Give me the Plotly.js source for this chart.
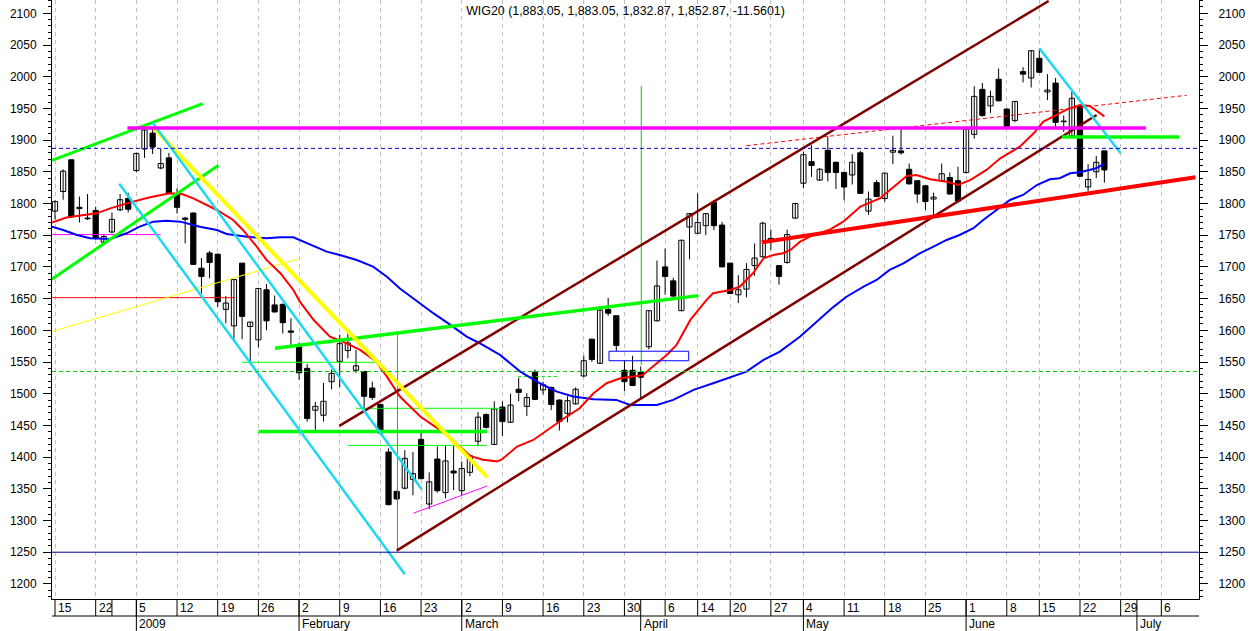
<!DOCTYPE html>
<html><head><meta charset="utf-8">
<script src="https://cdn.plot.ly/plotly-3.0.1.min.js"></script>
<style>html,body{margin:0;padding:0;background:#fff;} #chart{width:1250px;height:631px;}</style>
</head><body><div id="chart"></div>
<script>
const FONT = 'Liberation Sans, Arial, Helvetica, sans-serif';

// ---- trading calendar (WSE sessions) ----
const holidays = ['2008-12-24','2008-12-25','2008-12-26','2009-01-01','2009-01-02','2009-04-10','2009-04-13','2009-05-01','2009-06-11'];
const calendarStart = '2008-12-15';
const calendarEnd = '2009-07-10';

// ---- daily OHLC, from 2008-12-15 ----
const open  = [1788,1819,1869,1794,1777,1789,1739,1755,1790,1808, 1852,1886,1911,1856,1872,1815,1777,1785,1698,1722,
               1720,1633,1607,1706,1606,1585,1664,1640,1641,1599, 1574,1540,1474,1466,1519,1551,1568,1537,1535,1509,
               1483,1408,1346,1351,1365,1428,1326,1397,1344,1378, 1347,1376,1425,1467,1420,1479,1455,1507,1480,1534,
               1506,1510,1490,1469,1484,1528,1586,1548,1633,1623, 1537,1537,1534,1574,1615,1700,1678,1631,1763,1753,
               1765,1802,1766,1706,1656,1665,1702,1716,1745,1702, 1707,1777,1832,1866,1837,1884,1865,1849,1845,1880,
               1788,1833,1808,1881,1883,1854,1836,1828,1807,1836, 1841,1836,1849,1909,1980,1954,1996,1949,1931,2008,
               1998,2029,1976,1990,1929,1907,1954,1826,1850,1883.05];
const high  = [1805,1854,1869,1811,1815,1795,1752,1786,1815,1817, 1880,1918,1917,1886,1880,1824,1779,1786,1714,1725,
               1721,1654,1681,1706,1613,1667,1673,1655,1642,1619, 1581,1547,1487,1517,1538,1593,1595,1569,1536,1519,
               1484,1414,1347,1411,1408,1438,1376,1417,1418,1418, 1393,1405,1471,1469,1488,1488,1500,1525,1501,1538,
               1519,1511,1491,1496,1510,1560,1587,1638,1651,1623, 1552,1560,1543,1631,1710,1729,1683,1743,1785,1816,
               1785,1805,1771,1706,1687,1706,1737,1771,1759,1703, 1759,1801,1882,1892,1856,1906,1866,1850,1878,1883,
               1819,1837,1848,1907,1917,1863,1836,1828,1817,1863, 1849,1858,1918,1985,1990,1978,2013,1950,1961,2015,
               2042,2043,2004,1998,1939,1976,1955,1862,1875,1883.05];
const low   = [1775,1806,1777,1770,1774,1743,1737,1753,1788,1786, 1849,1872,1878,1854,1815,1784,1737,1703,1658,1682,
               1637,1611,1586,1586,1550,1573,1600,1628,1595,1577, 1522,1456,1443,1456,1507,1510,1556,1533,1477,1490,
               1436,1324,1333,1349,1340,1365,1318,1344,1335,1348, 1340,1370,1417,1445,1419,1433,1454,1488,1465,1490,
               1499,1474,1442,1455,1483,1526,1550,1547,1623,1567, 1504,1512,1493,1570,1614,1656,1653,1630,1712,1752,
               1750,1758,1700,1657,1643,1652,1686,1715,1727,1672, 1705,1776,1824,1842,1836,1835,1823,1805,1830,1815,
               1782,1810,1803,1862,1877,1830,1801,1790,1780,1835, 1814,1802,1847,1902,1937,1943,1961,1920,1928,1991,
               1983,2006,1963,1921,1913,1905,1842,1819,1840,1832.87];
const close = [1803,1851,1779,1792,1776,1745,1748,1775,1806,1791, 1879,1916,1889,1863,1816,1794,1775,1704,1685,1707,
               1645,1643,1680,1622,1613,1666,1615,1629,1612,1597, 1533,1461,1480,1488,1532,1579,1580,1544,1496,1494,
               1438,1325,1334,1398,1374,1366,1361,1347,1394,1375, 1382,1402,1463,1447,1476,1456,1482,1502,1494,1491,
               1514,1483,1456,1489,1507,1552,1554,1632,1627,1576, 1519,1513,1526,1631,1670,1685,1654,1742,1784,1770,
               1784,1765,1700,1658,1664,1696,1714,1769,1740,1685, 1751,1800,1877,1860,1854,1849,1849,1826,1865,1816,
               1807,1811,1848,1884,1880,1831,1815,1803,1810,1847, 1815,1804,1917,1969,1939,1969,1962,1921,1961,2004,
               2041,2007,1979,1928,1930,1966,1843,1838,1865,1852.87];
const lastChange = -11.5601;

// ---- moving averages (session index, value) ----
const redMaIdx = [-0.4,1.4,5.1,6.8,9.6,11.7,14.1,15.6,17,19.9,21.9,23.1,24.8,26,27.7,29.3,30.1,31.8,33.8,35.4,37.5,39.5,40.8,42.4,44.9,
  47.3,48.9,51,52.6,54.3,54.9,56.8,58.8,60.8,62.9,64.5,66.2,67.8,69.5,71.1,72.3,73.5,75.2,76.4,78.1,80.1,80.9,83,84.2,85.8,87.1,88.3,89.5,90.4,91.6,92.8,94,
  95.3,96.9,99,101.4,102.6,104.7,105.9,107.6,109.6,111,112.5,114.5,116.2,117.5,118.6,120.3,121.5,122.7,124.4,126,127.2,129];
const redMaVal = [1769.8,1778,1784.5,1792.4,1803,1809.8,1816,1815,1808.2,1789.8,1774,1758.3,1732,1711,1690,1663.6,1645.2,1616.3,1590,1582,1569,1550.7,1527,1495.5,1464,
  1443,1427,1402,1396,1393.3,1396,1416.6,1427,1445.6,1464,1477,1500.7,1516.5,1524.4,1527,1529.7,1542.8,1561.2,1577,1616.4,1648,1658.4,1663.6,1669,1690,1713.6,1718.8,1721.5,1726.7,1739.9,1747.7,1753,
  1759.3,1771.4,1795,1808,1821.3,1843.4,1845,1838.2,1834.5,1829.2,1837,1853,1871.3,1882,1889.7,1910.7,1929.1,1937,1948.6,1955.4,1953.8,1937.5];
const blueMaIdx = [-0.4,1,2.7,4.3,6.8,8.8,10.4,12.1,13.7,15.4,17.8,19.9,21.1,23.6,26,27.7,29.3,30.9,33.4,35,37.1,39.1,40.8,42.4,44.3,46.5,48.6,50.6,52.2,54.7,57.2,
  59.6,61.7,63.7,66.2,69,70.7,74,76,78.5,80.9,83.4,85,87.1,89.1,91.6,94,95.7,97.3,99.4,101,102.6,104.3,106.3,108,109.6,111.2,112.9,114.1,115.8,117.4,119,120.7,122.3,123.5,124.8,126,128,129];
const blueMaVal = [1763.5,1758.3,1750.4,1745.1,1744,1753,1763.5,1771.4,1773,1771.4,1763.5,1758.3,1752,1747.7,1745.1,1746.7,1746.7,1738.3,1724.1,1718.8,1710.9,1700.4,1684.6,1666,1648,1627,1608.6,1590.2,1579.6,1561.2,1534.9,
  1516.5,1503.3,1495.5,1491.3,1490.2,1482.3,1482.3,1490.2,1506,1516.5,1527,1534.9,1553.3,1566.5,1590.2,1618,1637,1653,1668.9,1679.4,1695.2,1705.7,1721.5,1732,1742.5,1750.4,1761,1774,1789.8,1805.6,1813.5,1829.2,1838.2,1839.8,1847.6,1849.2,1855.5,1862.9];

// ---- drawn trend lines: [session index, price] ----
const magentaResistance = [[8.9,1919],[134.1,1919]];
const magentaShort = [[-0.4,1751],[13.0,1751]];
const magentaSlant = [[44.05,1311.5],[53.14,1354.5]];
const redLevelThin = [[-0.4,1651.5],[22.1,1651.5]];
const yellowThin = [[-0.4,1598],[29.9,1712.5]];
const yellowDown = [[12.17,1919],[53.14,1368.3]];
const greenUpper = [[-0.4,1868],[18.16,1957.4]];
const greenLower = [[-0.4,1680.5],[20.1,1860.3]];
const greenRising = [[27.05,1571.7],[79.1,1654.7]];
const greenLevel1440 = [[25,1440.5],[53.1,1440.5]];
const greenLevel1905 = [[123.8,1905],[138.2,1905]];
const greenThin1550 = [[23.0,1549.6],[39.5,1549.6]];
const greenThin1477 = [[37,1477],[54.9,1477]];
const greenThin1418 = [[36,1418.5],[53.1,1418.5]];
const greenDashShort = [[56.9,1527],[62,1527]];
const greenVertApr = [[72.07,1985.4],[72.07,1545]];
const greenVertFeb = [[42.1,1595],[42.1,1253.7]];
const cyanUpper = [[11.96,1928],[45.08,1349.3]];
const cyanLower = [[7.9,1831.3],[43.0,1215.3]];
const cyanRight = [[121.0,2044.8],[131.0,1879.2]];
const maroonUpper = [[34.95,1449.2],[122.15,2119.4]];
const maroonLower = [[42.0,1252.5],[128.05,1939.6]];
const redSupport = [[86.87,1738.8],[140.2,1841.4]];
const redDashed = [[85.0,1891.2],[139.1,1970.7]];
const blueBox = [[68.1,1552],[77.9,1567]];
const levelBlueDash = 1887;
const levelGreenDash = 1535;
const levelBlueSolid = 1250;

// ---- axis labels ----
const weekTickDates = ['2008-12-15','2008-12-22','2008-12-29','2009-01-05','2009-01-12','2009-01-19','2009-01-26','2009-02-02','2009-02-09','2009-02-16','2009-02-23',
  '2009-03-02','2009-03-09','2009-03-16','2009-03-23','2009-03-30','2009-04-06','2009-04-14','2009-04-20','2009-04-27','2009-05-04','2009-05-11','2009-05-18','2009-05-25',
  '2009-06-01','2009-06-08','2009-06-15','2009-06-22','2009-06-29','2009-07-06'];
const weekTickLabels = ['15','22','','5','12','19','26','2','9','16','23','2','9','16','23','30','6','14','20','27','4','11','18','25','1','8','15','22','29','6'];
const monthStartDates = ['2009-01-05','2009-02-02','2009-03-02','2009-04-01','2009-05-04','2009-06-01','2009-07-01'];
const monthLabels = ['2009','February','March','April','May','June','July'];

function tradingCalendar(startIso, endIso) {
  const out = [];
  const d = new Date(startIso + 'T00:00:00Z');
  const end = new Date(endIso + 'T00:00:00Z');
  while (d <= end) {
    const iso = d.toISOString().slice(0, 10);
    const wd = d.getUTCDay();
    if (wd !== 0 && wd !== 6 && holidays.indexOf(iso) < 0) out.push(iso);
    d.setUTCDate(d.getUTCDate() + 1);
  }
  return out;
}
const calendar = tradingCalendar(calendarStart, calendarEnd);
const xi = open.map((_, i) => i); // session index of each candle in the calendar
const pos = (iso) => calendar.indexOf(iso);

const traces = [];
// wicks
const wx = [], wy = [];
xi.forEach((x, i) => { wx.push(x, x, null); wy.push(low[i], high[i], null); });
traces.push({type:'scatter', mode:'lines', x:wx, y:wy, line:{color:'#000', width:1}, hoverinfo:'skip'});
// bodies
traces.push({type:'bar', x:xi, base:open.map((o,i)=>Math.min(o,close[i])), y:open.map((o,i)=>Math.max(Math.abs(close[i]-o),0.4)),
  width:0.64, marker:{color:open.map((o,i)=>close[i]>=o?'#ffffff':'#000000'), line:{color:'#000', width:1}}, hoverinfo:'skip'});

function seg(pts, color, width, dash) {
  return {type:'scatter', mode:'lines', x:pts.map(p=>p[0]), y:pts.map(p=>p[1]), line:{color:color, width:width, dash:dash||'solid'}, hoverinfo:'skip'};
}
traces.push(seg(redLevelThin, '#ff0000', 1));
traces.push(seg(yellowThin, '#ffff00', 1));
traces.push(seg(magentaShort, '#ff00ff', 1));
traces.push(seg(magentaSlant, '#ff00ff', 1));
traces.push(seg(greenThin1550, '#00ff00', 1));
traces.push(seg(greenThin1477, '#00ff00', 1));
traces.push(seg(greenThin1418, '#00ff00', 1));
traces.push(seg(greenDashShort, '#00e000', 1, '3px,3px'));
traces.push(seg(greenVertApr, '#00d000', 1));
traces.push(seg(greenVertFeb, '#00d000', 1));
traces.push(seg(redDashed, '#ff0000', 1, '4px,3px'));
traces.push({type:'scatter', mode:'lines', x:blueMaIdx, y:blueMaVal, line:{color:'#0000ff', width:2}, hoverinfo:'skip'});
traces.push({type:'scatter', mode:'lines', x:redMaIdx, y:redMaVal, line:{color:'#ff0000', width:2}, hoverinfo:'skip'});
traces.push(seg(maroonUpper, '#800000', 2.5));
traces.push(seg(maroonLower, '#800000', 2.5));
traces.push(seg(greenUpper, '#00ff00', 3));
traces.push(seg(greenLower, '#00ff00', 3));
traces.push(seg(greenRising, '#00ff00', 3.5));
traces.push(seg(greenLevel1440, '#00ff00', 3.5));
traces.push(seg(greenLevel1905, '#00ff00', 3.5));
traces.push(seg(yellowDown, '#ffff00', 4));
traces.push(seg(cyanUpper, '#1ed8f2', 2.5));
traces.push(seg(cyanLower, '#1ed8f2', 2.5));
traces.push(seg(cyanRight, '#1ed8f2', 2.5));
traces.push(seg(redSupport, '#ff0000', 4));
traces.push(seg(magentaResistance, '#ff00ff', 3.5));
// carriers for the right axis and the date table subplot
traces.push({type:'scatter', mode:'lines', x:xi, y:close, yaxis:'y2', opacity:0, hoverinfo:'skip'});
traces.push({type:'scatter', mode:'markers', x:[0], y:[0], xaxis:'x2', yaxis:'y3', opacity:0, hoverinfo:'skip'});

const shapes = [
  {type:'line', xref:'x domain', yref:'y', x0:0, x1:1, y0:levelBlueDash, y1:levelBlueDash, line:{color:'#0000cc', width:1, dash:'4px,3px'}},
  {type:'line', xref:'x domain', yref:'y', x0:0, x1:1, y0:levelGreenDash, y1:levelGreenDash, line:{color:'#00cc00', width:1.2, dash:'4px,3px'}},
  {type:'line', xref:'x domain', yref:'y', x0:0, x1:1, y0:levelBlueSolid, y1:levelBlueSolid, line:{color:'#000099', width:1}},
  {type:'rect', xref:'x', yref:'y', x0:blueBox[0][0], x1:blueBox[1][0], y0:blueBox[0][1], y1:blueBox[1][1], line:{color:'#0000ff', width:1}, fillcolor:'rgba(0,0,0,0)'},
  {type:'line', xref:'x2 domain', yref:'y3', x0:0, x1:1, y0:15, y1:15, line:{color:'#000', width:1}}
];
const annotations = [];
weekTickDates.forEach((d, k) => {
  const p = pos(d);
  shapes.push({type:'line', xref:'x2', yref:'y3', x0:p, x1:p, y0:15, y1:32, line:{color:'#000', width:1}});
  if (weekTickLabels[k]) annotations.push({xref:'x2', yref:'y3', x:p, y:23.5, xanchor:'left', yanchor:'middle', xshift:1, showarrow:false,
    text:weekTickLabels[k], font:{family:FONT, size:12, color:'#000'}});
});
monthStartDates.forEach((d, k) => {
  const p = pos(d);
  shapes.push({type:'line', xref:'x2', yref:'y3', x0:p, x1:p, y0:0, y1:32, line:{color:'#000', width:1}});
  annotations.push({xref:'x2', yref:'y3', x:p, y:7, xanchor:'left', yanchor:'middle', xshift:1, showarrow:false,
    text:monthLabels[k], font:{family:FONT, size:12, color:'#000'}});
});
const gridIdx = weekTickDates.filter((d,k)=>weekTickLabels[k]!=='').map(pos);

const fmt = (v) => v.toLocaleString('en-US', {minimumFractionDigits:2, maximumFractionDigits:2});
const n = open.length - 1;
const titleText = 'WIG20 (' + [open[n], high[n], low[n], close[n]].map(fmt).join(', ') + ', ' + lastChange + ')';

const yRange = [1176.2, 2121];
const yCommon = {range:yRange, tick0:1200, dtick:50, ticks:'outside', ticklen:8, tickcolor:'#000', tickwidth:1,
  showline:true, linecolor:'#000', linewidth:1, showgrid:false, zeroline:false,
  tickfont:{family:FONT, size:12, color:'#000'},
  minor:{ticks:'outside', ticklen:3, tickcolor:'#000', tickwidth:1, dtick:10, tick0:1200, showgrid:false}};

const layout = {
  width:1250, height:631, margin:{l:52, r:51, t:0, b:0, pad:0},
  paper_bgcolor:'#fff', plot_bgcolor:'#fff', showlegend:false, bargap:0,
  title:{text:titleText, x:0.5, xref:'paper', xanchor:'center', y:1-11/631, yref:'container', yanchor:'middle',
    font:{family:FONT, size:12.4, color:'#000'}},
  xaxis:{domain:[0,1], anchor:'y', range:[-0.37,140.63], showticklabels:false, ticks:'', tickmode:'array', tickvals:gridIdx,
    showgrid:true, gridcolor:'#c0c0c0', griddash:'4px,4px', gridwidth:1, zeroline:false, showline:true, linecolor:'#000', linewidth:1},
  yaxis:Object.assign({domain:[32/631,1], anchor:'x', side:'left', ticklabelstandoff:4}, yCommon),
  yaxis2:Object.assign({overlaying:'y', anchor:'x', side:'right', ticklabelstandoff:8}, yCommon),
  xaxis2:{domain:[0,1], anchor:'y3', matches:'x', range:[-0.37,140.63], visible:false},
  yaxis3:{domain:[0,32/631], anchor:'x2', range:[0,32], visible:false},
  shapes:shapes, annotations:annotations
};
Plotly.newPlot('chart', traces, layout, {staticPlot:true, displayModeBar:false});
</script></body></html>
